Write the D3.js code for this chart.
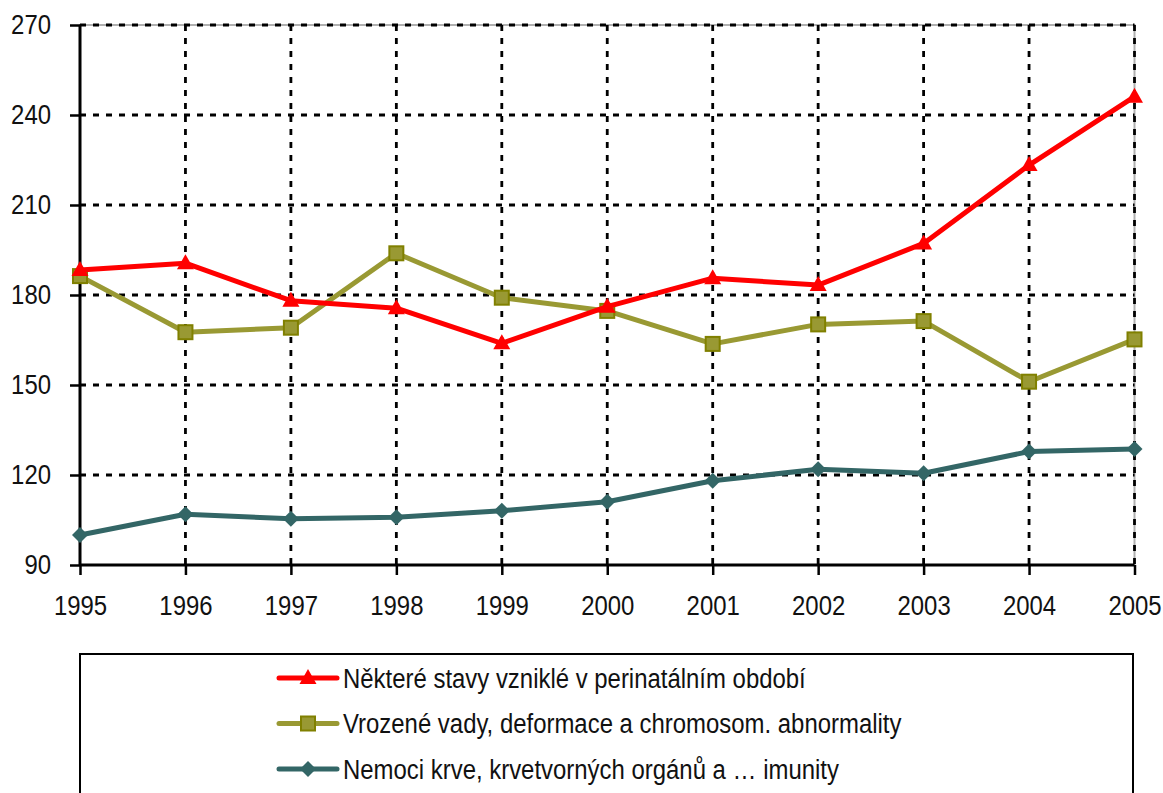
<!DOCTYPE html>
<html>
<head>
<meta charset="utf-8">
<script src="https://cdn.jsdelivr.net/npm/d3@7"></script>
<style>
  body { margin: 0; background: #fff; }
  svg text { font-family: "Liberation Sans", Arial, sans-serif; fill: #111; }
</style>
</head>
<body>
<div class="chart"></div>
<script>
const years = [1995, 1996, 1997, 1998, 1999, 2000, 2001, 2002, 2003, 2004, 2005];
const perinatal = [188.3, 190.6, 178.1, 175.6, 163.9, 176.1, 185.6, 183.3, 197.2, 223.3, 246.1];
const vrozene = [186.3, 167.6, 169.1, 193.9, 179.1, 174.7, 163.7, 170.2, 171.3, 151.1, 165.2];
const krev = [100.0, 106.9, 105.4, 105.9, 108.1, 111.1, 118.1, 121.9, 120.6, 127.8, 128.7];
const yTicks = [90, 120, 150, 180, 210, 240, 270];
const seriesNames = [
  'Některé stavy vzniklé v perinatálním období',
  'Vrozené vady, deformace a chromosom. abnormality',
  'Nemoci krve, krvetvorných orgánů a … imunity'
];

const W = 1163, H = 793;
const margin = ({top: 25, right: 28.5, bottom: 228, left: 80});
const width = W - margin.left - margin.right;
const height = H - margin.top - margin.bottom;
const narrow = 0.855; // squeeze Liberation Sans to look like Arial Narrow
const fontSize = 28;

const svg = d3.select('.chart')
              .append('svg')
              .attr('width', W)
              .attr('height', H);

const g = svg.append('g')
             .attr('transform', `translate(${margin.left}, ${margin.top})`);

const xScale = d3.scaleLinear()
                 .domain(d3.extent(years))
                 .range([0, width]);

const yScale = d3.scaleLinear()
                 .domain([90, 270])
                 .range([height, 0]);

// plot frame
g.append('rect')
  .attr('width', width)
  .attr('height', height)
  .attr('fill', 'none')
  .attr('stroke', '#b0b0b0')
  .attr('stroke-width', 2);

// dashed grid
g.append('g')
  .selectAll('line')
  .data(yTicks.slice(1))
  .join('line')
  .attr('x1', 0)
  .attr('x2', width)
  .attr('y1', d => yScale(d))
  .attr('y2', d => yScale(d))
  .attr('stroke', '#000')
  .attr('stroke-width', 2.8)
  .attr('stroke-dasharray', '6,7');

g.append('g')
  .selectAll('line')
  .data(years.slice(1))
  .join('line')
  .attr('x1', d => xScale(d))
  .attr('x2', d => xScale(d))
  .attr('y1', 0)
  .attr('y2', height)
  .attr('stroke', '#000')
  .attr('stroke-width', 2.8)
  .attr('stroke-dasharray', '6,7');

// axes
const xAxis = d3.axisBottom(xScale)
                .tickValues(years)
                .tickFormat(d3.format('d'))
                .tickSize(10)
                .tickPadding(20);

const yAxis = d3.axisLeft(yScale)
                .tickValues(yTicks)
                .tickSize(10);

const gx = g.append('g')
  .attr('class', 'axis x-axis')
  .attr('transform', `translate(0, ${height})`)
  .call(xAxis);

const gy = g.append('g')
  .attr('class', 'axis y-axis')
  .call(yAxis);

[gx, gy].forEach(a => {
  a.select('.domain').attr('stroke', '#000').attr('stroke-width', 3);
  a.selectAll('.tick line').attr('stroke', '#000').attr('stroke-width', 2.5);
  a.selectAll('.tick text')
    .attr('font-size', fontSize)
    .attr('fill', '#111')
    .attr('font-family', '"Liberation Sans", Arial, sans-serif')
    .attr('transform', `scale(${narrow},1)`);
});
gy.selectAll('.tick text').attr('x', -29 / narrow);
gy.select('.domain').attr('d', `M0,0V${height}`);
gx.select('.domain').attr('d', `M0,0H${width}`);

// series
const series = [
  {name: seriesNames[0], values: perinatal, color: '#ff0000', marker: 'triangle', fill: '#ff0000', stroke: '#ff0000'},
  {name: seriesNames[1], values: vrozene, color: '#999933', marker: 'square', fill: '#999933', stroke: '#808000'},
  {name: seriesNames[2], values: krev, color: '#336666', marker: 'diamond', fill: '#336666', stroke: '#336666'}
];

const line = d3.line()
               .x((d, i) => xScale(years[i]))
               .y(d => yScale(d));

function drawMarker(sel, s) {
  if (s.marker === 'triangle') {
    sel.append('path')
      .attr('d', 'M0,-9L8.5,6L-8.5,6Z')
      .attr('fill', s.fill);
  } else if (s.marker === 'square') {
    sel.append('rect')
      .attr('x', -7).attr('y', -7)
      .attr('width', 14).attr('height', 14)
      .attr('fill', s.fill)
      .attr('stroke', s.stroke)
      .attr('stroke-width', 2);
  } else {
    sel.append('path')
      .attr('d', 'M0,-8L8,0L0,8L-8,0Z')
      .attr('fill', s.fill);
  }
}

// draw bottom series first so red sits on top
series.slice().reverse().forEach(s => {
  g.append('path')
    .datum(s.values)
    .attr('d', line)
    .attr('fill', 'none')
    .attr('stroke', s.color)
    .attr('stroke-width', 5)
    .attr('stroke-linejoin', 'round');

  g.selectAll(null)
    .data(s.values)
    .enter()
    .append('g')
    .attr('transform', (d, i) => `translate(${xScale(years[i])}, ${yScale(d)})`)
    .each(function() { drawMarker(d3.select(this), s); });
});

// legend
const legend = svg.append('g');
legend.append('rect')
  .attr('x', 80)
  .attr('y', 654)
  .attr('width', 1053)
  .attr('height', 160)
  .attr('fill', '#fff')
  .attr('stroke', '#000')
  .attr('stroke-width', 2);

series.forEach((s, i) => {
  const row = legend.append('g')
    .attr('transform', `translate(308, ${678 + i * 45.5})`);
  row.append('line')
    .attr('x1', -29).attr('x2', 29)
    .attr('stroke', s.color)
    .attr('stroke-width', 5)
    .attr('stroke-linecap', 'round');
  drawMarker(row, s);
  row.append('text')
    .attr('transform', `translate(35, 0) scale(${narrow},1)`)
    .attr('dy', '0.35em')
    .attr('font-size', fontSize)
    .text(s.name);
});
</script>
</body>
</html>
